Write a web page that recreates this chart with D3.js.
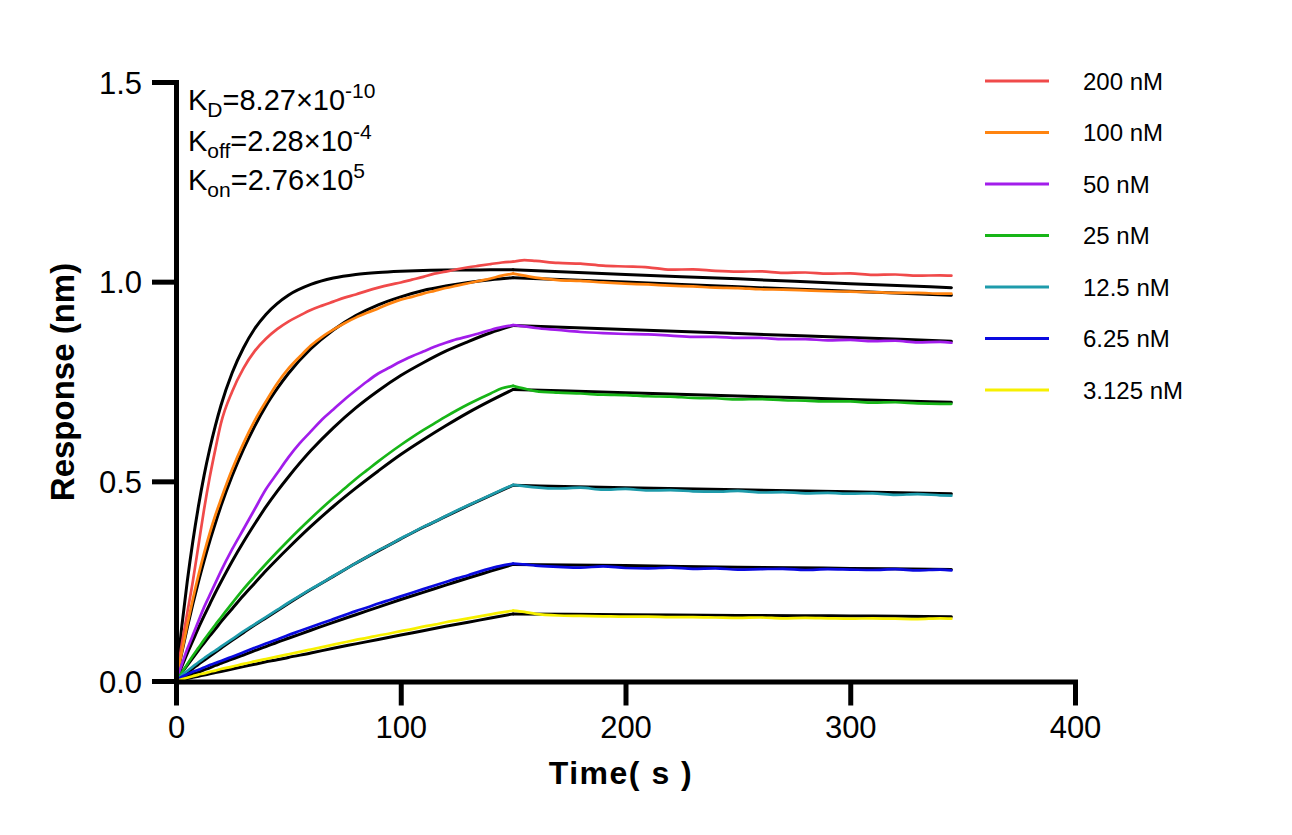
<!DOCTYPE html>
<html>
<head>
<meta charset="utf-8">
<script src="https://cdn.jsdelivr.net/npm/d3@7/dist/d3.min.js"></script>
<style>
  html, body { margin: 0; padding: 0; background: #fff; }
  svg { display: block; }
  text { font-family: "Liberation Sans", Arial, sans-serif; fill: #000; }
</style>
</head>
<body>
<svg id="chart" width="1292" height="835"></svg>
<script>
// ---------- data ----------
const seriesLabels = ["200 nM", "100 nM", "50 nM", "25 nM", "12.5 nM", "6.25 nM", "3.125 nM"];
const seriesColors = ["#F04A4A", "#FF8410", "#A21DEB", "#17B517", "#1E9BAB", "#0A0ADF", "#F7F000"];

const xTicks = [0, 100, 200, 300, 400];
const yTicks = [0, 0.5, 1.0, 1.5];

// measured sensorgram sample times (s)
const dataTime = [0,2.5,5,7.5,10,12.5,15,17.5,20,25,30,35,40,45,50,55,60,65,70,75,80,85,90,95,100,105,110,115,120,125,130,135,140,145,150,155,160,170,180,190,200,210,220,230,240,250,260,270,280,290,300,310,320,330,340,345];

const data200 = [0,0.09,0.17,0.25,0.34,0.43,0.51,0.58,0.645,0.725,0.783,0.826,0.857,0.881,0.90,0.915,0.929,0.94,0.95,0.96,0.968,0.977,0.985,0.992,0.998,1.005,1.012,1.02,1.025,1.031,1.036,1.04,1.044,1.048,1.05,1.054,1.052,1.047,1.045,1.04,1.038,1.036,1.03,1.031,1.027,1.025,1.026,1.022,1.023,1.02,1.021,1.017,1.018,1.015,1.016,1.015];
const data100 = [0,0.07,0.14,0.205,0.265,0.32,0.37,0.415,0.455,0.53,0.595,0.652,0.70,0.745,0.782,0.812,0.84,0.862,0.88,0.896,0.91,0.922,0.933,0.945,0.955,0.962,0.97,0.977,0.984,0.99,0.996,1.002,1.008,1.015,1.02,1.015,1.01,1.004,1.002,0.998,0.995,0.993,0.99,0.988,0.985,0.984,0.981,0.98,0.978,0.976,0.975,0.974,0.972,0.972,0.97,0.97];
const data50 = [0,0.04,0.08,0.115,0.15,0.185,0.215,0.245,0.275,0.33,0.38,0.43,0.48,0.52,0.56,0.595,0.625,0.655,0.68,0.705,0.728,0.75,0.77,0.785,0.8,0.813,0.825,0.837,0.847,0.856,0.863,0.871,0.879,0.886,0.891,0.888,0.884,0.879,0.874,0.871,0.869,0.868,0.865,0.862,0.862,0.859,0.859,0.856,0.856,0.853,0.854,0.851,0.852,0.848,0.849,0.847];
const data25 = [0,0.02,0.042,0.063,0.083,0.103,0.122,0.141,0.159,0.195,0.23,0.262,0.293,0.323,0.352,0.38,0.407,0.433,0.458,0.482,0.506,0.528,0.55,0.571,0.591,0.61,0.628,0.645,0.662,0.678,0.693,0.707,0.72,0.733,0.739,0.732,0.726,0.722,0.72,0.717,0.716,0.713,0.712,0.709,0.708,0.705,0.706,0.703,0.702,0.7,0.7,0.697,0.698,0.695,0.694,0.694];
const data12_5 = [0,0.014,0.025,0.036,0.047,0.057,0.067,0.076,0.086,0.105,0.124,0.142,0.16,0.178,0.196,0.213,0.23,0.246,0.263,0.279,0.295,0.311,0.327,0.341,0.357,0.371,0.386,0.399,0.413,0.427,0.44,0.453,0.466,0.479,0.491,0.488,0.485,0.482,0.484,0.479,0.481,0.477,0.478,0.475,0.474,0.476,0.472,0.473,0.47,0.471,0.469,0.47,0.466,0.468,0.465,0.464];
const data6_25 = [0,0.01,0.017,0.023,0.028,0.034,0.04,0.045,0.05,0.061,0.072,0.083,0.094,0.104,0.115,0.125,0.135,0.145,0.155,0.165,0.175,0.184,0.194,0.203,0.212,0.221,0.23,0.239,0.248,0.257,0.265,0.274,0.282,0.289,0.294,0.292,0.289,0.286,0.284,0.287,0.283,0.282,0.284,0.281,0.282,0.279,0.28,0.281,0.278,0.28,0.279,0.278,0.28,0.277,0.279,0.277];
const data3_125 = [0,0.004,0.008,0.012,0.016,0.019,0.023,0.026,0.03,0.036,0.043,0.049,0.055,0.061,0.067,0.073,0.079,0.085,0.091,0.097,0.103,0.108,0.114,0.119,0.125,0.13,0.136,0.141,0.147,0.152,0.157,0.162,0.167,0.172,0.176,0.173,0.168,0.164,0.163,0.162,0.161,0.161,0.16,0.16,0.159,0.158,0.159,0.157,0.158,0.157,0.156,0.157,0.156,0.155,0.157,0.156];

// fitted curves (black) sample times (s)
const fitTime = [0,2.5,5,7.5,10,12.5,15,17.5,20,25,30,35,40,45,50,60,70,80,90,100,110,120,130,140,150,200,250,300,345];
const fit200 = [0,0.133,0.249,0.350,0.438,0.515,0.581,0.639,0.690,0.772,0.834,0.882,0.918,0.945,0.966,0.993,1.009,1.018,1.023,1.026,1.028,1.029,1.029,1.030,1.030,1.018,1.007,0.995,0.985];
const fit100 = [0,0.069,0.133,0.193,0.249,0.301,0.350,0.395,0.438,0.514,0.580,0.638,0.689,0.732,0.770,0.832,0.879,0.915,0.942,0.962,0.978,0.989,0.998,1.005,1.010,0.999,0.987,0.976,0.966];
const fit50 = [0,0.035,0.069,0.101,0.133,0.163,0.192,0.221,0.248,0.300,0.348,0.393,0.436,0.475,0.511,0.577,0.634,0.684,0.727,0.765,0.797,0.826,0.850,0.872,0.890,0.880,0.870,0.860,0.851];
const fit25 = [0,0.020,0.039,0.058,0.077,0.095,0.113,0.130,0.148,0.181,0.214,0.245,0.276,0.305,0.333,0.387,0.437,0.483,0.526,0.567,0.604,0.639,0.672,0.702,0.730,0.722,0.714,0.705,0.698];
const fit12_5 = [0,0.011,0.021,0.031,0.042,0.052,0.062,0.072,0.082,0.102,0.121,0.140,0.158,0.176,0.194,0.229,0.262,0.295,0.326,0.356,0.385,0.412,0.439,0.465,0.490,0.484,0.479,0.474,0.469];
const fit6_25 = [0,0.006,0.011,0.017,0.022,0.028,0.033,0.039,0.044,0.055,0.065,0.076,0.086,0.097,0.107,0.127,0.147,0.166,0.185,0.204,0.222,0.240,0.258,0.275,0.292,0.289,0.285,0.282,0.279];
const fit3_125 = [0,0.003,0.006,0.009,0.012,0.015,0.018,0.021,0.024,0.030,0.036,0.042,0.048,0.053,0.059,0.070,0.082,0.093,0.104,0.115,0.126,0.137,0.147,0.158,0.168,0.166,0.164,0.163,0.161];

const dataSeries = [data200, data100, data50, data25, data12_5, data6_25, data3_125];
const fitSeries = [fit200, fit100, fit50, fit25, fit12_5, fit6_25, fit3_125];
const injectionEnd = 150;

// ---------- chart ----------
const svg = d3.select("#chart");
const x = d3.scaleLinear().domain([0, 400]).range([176, 1075]);
const y = d3.scaleLinear().domain([0, 1.5]).range([681, 82]);

const plot = svg.append("g");

function drawPhased(times, values, color, width) {
  const pts = times.map((t, i) => [t, values[i]]);
  const assoc = pts.filter(p => p[0] <= injectionEnd);
  const dissoc = pts.filter(p => p[0] >= injectionEnd);
  const line = d3.line().x(p => x(p[0])).y(p => y(p[1])).curve(d3.curveMonotoneX);
  [assoc, dissoc].forEach(seg => {
    plot.append("path")
      .attr("d", line(seg))
      .attr("fill", "none")
      .attr("stroke", color)
      .attr("stroke-width", width)
      .attr("stroke-linejoin", "round")
      .attr("stroke-linecap", "round");
  });
}

// fits first, measured data on top
fitSeries.forEach(vals => drawPhased(fitTime, vals, "#000", 3));
dataSeries.forEach((vals, i) => drawPhased(dataTime, vals, seriesColors[i], 2.7));

// axes
const xAxis = d3.axisBottom(x).tickValues(xTicks).tickFormat(d3.format("d"))
  .tickSize(24).tickSizeOuter(0).tickPadding(10);
const yAxis = d3.axisLeft(y).tickValues(yTicks).tickFormat(d3.format(".1f"))
  .tickSize(24).tickSizeOuter(0).tickPadding(10);

const gx = svg.append("g").attr("transform", "translate(0,681.5)").call(xAxis);
const gy = svg.append("g").attr("transform", "translate(176,0)").call(yAxis);

[gx, gy].forEach(g => {
  g.select(".domain").attr("stroke", "#000").attr("stroke-width", 5).attr("stroke-linecap", "square");
  g.selectAll(".tick line").attr("stroke", "#000").attr("stroke-width", 5);
  g.selectAll(".tick text")
    .attr("font-family", "'Liberation Sans', Arial, sans-serif")
    .attr("font-size", 31).attr("fill", "#000");
});
gy.selectAll(".tick text").attr("dy", "0.36em");

// axis titles
svg.append("text")
  .attr("x", 621).attr("y", 784)
  .attr("text-anchor", "middle")
  .attr("font-size", 32).attr("font-weight", "bold")
  .attr("letter-spacing", "1.5px")
  .text("Time( s )");

svg.append("text")
  .attr("transform", "translate(74,382) rotate(-90)")
  .attr("text-anchor", "middle")
  .attr("font-size", 33).attr("font-weight", "bold")
  .text("Response (nm)");

// kinetic constants annotation
const annot = [
  { sub: "D", val: "=8.27×10", sup: "-10", y: 110 },
  { sub: "off", val: "=2.28×10", sup: "-4", y: 151 },
  { sub: "on", val: "=2.76×10", sup: "5", y: 190 }
];
annot.forEach(a => {
  const t = svg.append("text").attr("x", 188).attr("y", a.y).attr("font-size", 29);
  t.append("tspan").text("K");
  t.append("tspan").attr("dy", 7).attr("font-size", 21).text(a.sub);
  t.append("tspan").attr("dy", -7).text(a.val);
  t.append("tspan").attr("dy", -12).attr("font-size", 21).text(a.sup);
});

// legend
const legend = svg.append("g");
seriesLabels.forEach((lab, i) => {
  const ly = 81 + i * 51.5;
  legend.append("line")
    .attr("x1", 985).attr("x2", 1049).attr("y1", ly).attr("y2", ly)
    .attr("stroke", seriesColors[i]).attr("stroke-width", 3);
  legend.append("text")
    .attr("x", 1083).attr("y", ly + 8.5)
    .attr("font-size", 24)
    .text(lab);
});
</script>
</body>
</html>
